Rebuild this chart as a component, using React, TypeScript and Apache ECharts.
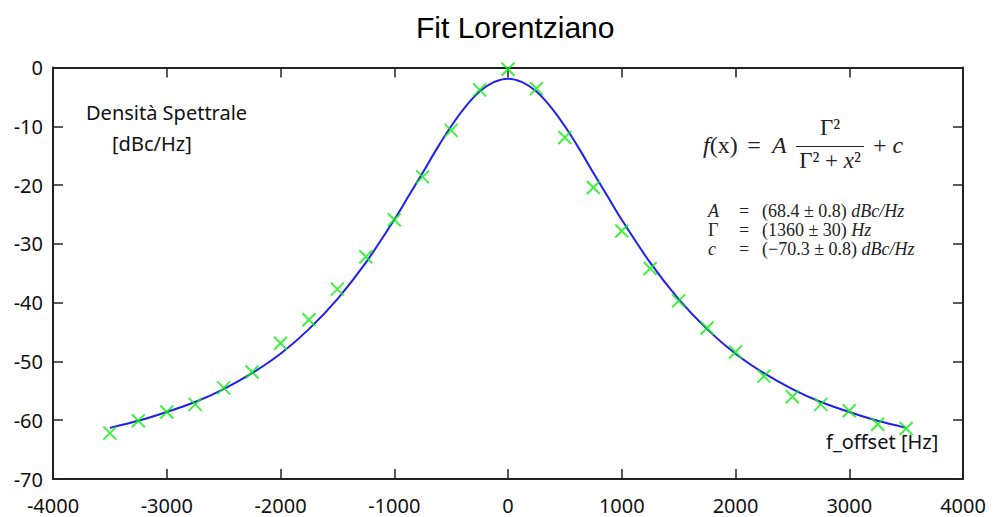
import { useEffect, useRef } from "react";
import * as echarts from "echarts";

// Measured spectral density points (frequency offset in Hz, level in dBc/Hz)
const offsetsHz = [
  -3500, -3250, -3000, -2750, -2500, -2250, -2000, -1750, -1500, -1250, -1000,
  -750, -500, -250, 0, 250, 500, 750, 1000, 1250, 1500, 1750, 2000, 2250, 2500,
  2750, 3000, 3250, 3500,
];
const measuredDb = [
  -62.2, -60.1, -58.6, -57.3, -54.5, -51.8, -46.9, -42.9, -37.7, -32.2, -25.9,
  -18.6, -10.7, -3.8, -0.3, -3.6, -11.9, -20.4, -27.8, -34.2, -39.7, -44.3,
  -48.4, -52.5, -56.0, -57.3, -58.4, -60.7, -61.4,
];

// Fitted Lorentzian curve, sampled along the offset axis
const fitOffsetsHz = [
  -3500, -3250, -3000, -2750, -2500, -2250, -2000, -1750, -1500, -1250, -1000,
  -875, -750, -625, -500, -375, -250, -125, 0, 125, 250, 375, 500, 625, 750, 875,
  1000, 1250, 1500, 1750, 2000, 2250, 2500, 2750, 3000, 3250, 3500,
];
const fitDb = [
  -61.3, -60.1, -58.6, -56.9, -54.7, -52.0, -48.7, -44.5, -39.4, -33.2, -25.9,
  -21.9, -17.9, -13.8, -10.0, -6.7, -4.1, -2.5, -1.9, -2.5, -4.1, -6.7, -10.0,
  -13.8, -17.9, -21.9, -25.9, -33.2, -39.4, -44.5, -48.7, -52.0, -54.7, -56.9,
  -58.6, -60.1, -61.3,
];

// Fit parameter table rows: symbol, value, unit
const paramSymbols = ["{i|A}", "Γ", "{i|c}"];
const paramValues = ["(68.4 ± 0.8)", "(1360 ± 30)", "(−70.3 ± 0.8)"];
const paramUnits = ["dBc/Hz", "Hz", "dBc/Hz"];

const SANS = "Noto Sans";
const SERIF = "Liberation Serif";
const MATH_COLOR = "#222";

export default function App() {
  const ref = useRef<HTMLDivElement>(null);

  useEffect(() => {
    if (!ref.current) return;
    const chart = echarts.init(ref.current, null, { renderer: "svg" });

    const frame = { color: "#222", width: 2 };
    const tick = { show: true, inside: true, length: 10, lineStyle: { color: "#222", width: 1.5 } };
    const label = {
      fontFamily: SANS,
      fontSize: 20,
      color: "#111",
      formatter: (v: number) => String(v),
    };

    const mathText = (
      text: string,
      x: number,
      y: number,
      size: number,
      align: "left" | "center" | "right" = "left"
    ) => ({
      type: "text",
      x,
      y,
      silent: true,
      style: {
        text,
        fill: MATH_COLOR,
        fontFamily: SERIF,
        fontSize: size,
        align,
        verticalAlign: "middle",
        rich: {
          i: { fontStyle: "italic", fontFamily: SERIF, fontSize: size, fill: MATH_COLOR },
        },
      },
    });

    const paramRows: any[] = [];
    paramSymbols.forEach((s, k) => {
      const y = 211 + k * 19;
      paramRows.push(mathText(s, 708, y, 18));
      paramRows.push(mathText("=", 744, y, 18, "center"));
      paramRows.push(mathText(`${paramValues[k]} {i|${paramUnits[k]}}`, 762, y, 18));
    });

    const axisCommon = {
      type: "value",
      axisLine: { show: true, onZero: false, lineStyle: frame },
      axisTick: tick,
      splitLine: { show: false },
    };

    chart.setOption({
      animation: false,
      backgroundColor: "#fff",
      title: {
        text: "Fit Lorentziano",
        left: 411,
        top: 7,
        textStyle: { fontFamily: "Liberation Sans", fontSize: 30, fontWeight: "normal", color: "#000" },
      },
      grid: { left: 53, right: 32, top: 67.5, bottom: 38, containLabel: false },
      xAxis: [
        {
          ...axisCommon,
          position: "bottom",
          min: -4000,
          max: 4000,
          interval: 1000,
          axisLabel: { ...label, margin: 16 },
        },
        {
          ...axisCommon,
          position: "top",
          min: -4000,
          max: 4000,
          interval: 1000,
          axisLabel: { show: false },
        },
      ],
      yAxis: [
        {
          ...axisCommon,
          position: "left",
          min: -70,
          max: 0,
          interval: 10,
          axisLabel: { ...label, margin: 10 },
        },
        {
          ...axisCommon,
          position: "right",
          min: -70,
          max: 0,
          interval: 10,
          axisLabel: { show: false },
        },
      ],
      series: [
        {
          name: "fit",
          type: "line",
          xAxisIndex: 0,
          yAxisIndex: 0,
          data: fitOffsetsHz.map((x, i) => [x, fitDb[i]]),
          smooth: 0.3,
          showSymbol: false,
          lineStyle: { color: "#1f1fef", width: 2 },
          z: 2,
        },
        {
          name: "dati",
          type: "scatter",
          xAxisIndex: 0,
          yAxisIndex: 0,
          data: offsetsHz.map((x, i) => [x, measuredDb[i]]),
          symbol: "path://M0,0L10,10M0,10L10,0",
          symbolSize: 13,
          itemStyle: { color: "rgba(0,0,0,0)", borderColor: "#12ee12", borderWidth: 2 },
          z: 3,
        },
      ],
      graphic: [
        {
          type: "text",
          left: 86,
          top: 102,
          silent: true,
          style: { text: "Densità Spettrale", fill: "#111", fontFamily: SANS, fontSize: 20 },
        },
        {
          type: "text",
          left: 112,
          top: 133,
          silent: true,
          style: { text: "[dBc/Hz]", fill: "#111", fontFamily: SANS, fontSize: 20 },
        },
        {
          type: "text",
          left: 826,
          top: 431,
          silent: true,
          style: { text: "f_offset [Hz]", fill: "#111", fontFamily: SANS, fontSize: 20 },
        },
        // f(x) = A Γ²/(Γ² + x²) + c
        mathText("{i|f}(x)", 703, 145, 24),
        mathText("=", 754, 145, 24, "center"),
        mathText("{i|A}", 772, 145, 24),
        mathText("Γ²", 830, 127, 23, "center"),
        {
          type: "line",
          silent: true,
          shape: { x1: 796, y1: 146.5, x2: 864, y2: 146.5 },
          style: { stroke: MATH_COLOR, lineWidth: 1 },
        },
        mathText("Γ² + {i|x}²", 830, 160, 23, "center"),
        mathText("+ {i|c}", 873, 145, 24),
        ...paramRows,
      ],
    });

    return () => chart.dispose();
  }, []);

  return (
    <div
      ref={ref}
      style={{ position: "absolute", left: 0, top: 0, width: 995, height: 517 }}
    />
  );
}
